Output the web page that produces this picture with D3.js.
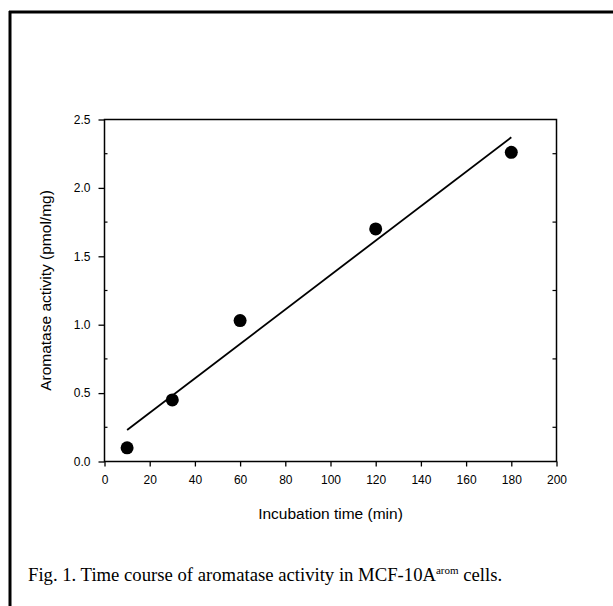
<!DOCTYPE html>
<html><head><meta charset="utf-8">
<script src="https://cdn.jsdelivr.net/npm/d3@7"></script>
<style>body{margin:0;background:#fff}svg{display:block}</style>
</head><body>
<svg id="c" width="613" height="606"></svg>
<script>
const times = [10, 30, 60, 120, 180];
const activity = [0.10, 0.45, 1.03, 1.70, 2.26];
const fitX = [10, 180];
const fitY = [0.23, 2.37];
const xTicks = [0, 20, 40, 60, 80, 100, 120, 140, 160, 180, 200];
const yTicks = [0.0, 0.5, 1.0, 1.5, 2.0, 2.5];
const yMinorTicks = [0.25, 0.75, 1.25, 1.75, 2.25];

const svg = d3.select("#c");
const x = d3.scaleLinear().domain([0, 200]).range([104.5, 556.5]);
const y = d3.scaleLinear().domain([0, 2.5]).range([461.5, 119.5]);
const font = "'Liberation Sans', Arial, sans-serif";

// frame
svg.append("line").attr("x1", 10).attr("x2", 10).attr("y1", 11).attr("y2", 606).attr("stroke", "#000").attr("stroke-width", 3);
svg.append("line").attr("x1", 9).attr("x2", 613).attr("y1", 12).attr("y2", 12).attr("stroke", "#000").attr("stroke-width", 3);

// plot box
svg.append("rect").attr("x", x(0)).attr("y", y(2.5)).attr("width", x(200) - x(0)).attr("height", y(0) - y(2.5))
  .attr("fill", "none").attr("stroke", "#000").attr("stroke-width", 1.5);

// x axis
const gx = svg.append("g").attr("transform", `translate(0,${y(0)})`)
  .call(d3.axisBottom(x).tickValues(xTicks).tickFormat(d3.format("d")).tickSize(5).tickPadding(9));
gx.select(".domain").remove();
gx.selectAll("line").attr("stroke-width", 1.3);
gx.selectAll("text").attr("font-family", font).attr("font-size", 12).attr("fill", "#000");

// y axis
const gy = svg.append("g").attr("transform", `translate(${x(0)},0)`)
  .call(d3.axisLeft(y).tickValues(yTicks).tickFormat(d3.format(".1f")).tickSize(6).tickPadding(8));
gy.select(".domain").remove();
gy.selectAll("line").attr("stroke-width", 1.3);
gy.selectAll("text").attr("font-family", font).attr("font-size", 12).attr("fill", "#000");

// minor inward ticks left and right
const gm = svg.append("g").attr("stroke", "#000").attr("stroke-width", 1.2);
gm.selectAll("line.l").data(yMinorTicks).join("line")
  .attr("x1", x(0)).attr("x2", x(0) + 3).attr("y1", d => y(d)).attr("y2", d => y(d));
gm.selectAll("line.r").data(yMinorTicks).join("line")
  .attr("x1", x(200)).attr("x2", x(200) - 4).attr("y1", d => y(d)).attr("y2", d => y(d));

// fit line
svg.append("path").datum(fitX.map((d, i) => [d, fitY[i]]))
  .attr("d", d3.line().x(d => x(d[0])).y(d => y(d[1])))
  .attr("fill", "none").attr("stroke", "#000").attr("stroke-width", 1.8);

// points
svg.append("g").selectAll("circle").data(times.map((t, i) => [t, activity[i]])).join("circle")
  .attr("cx", d => x(d[0])).attr("cy", d => y(d[1])).attr("r", 6.5).attr("fill", "#000");

// axis titles
svg.append("text").attr("x", x(100)).attr("y", 519).attr("text-anchor", "middle")
  .attr("font-family", font).attr("font-size", 15.5).text("Incubation time (min)");
svg.append("text").attr("transform", `translate(51,${y(1.25)}) rotate(-90)`).attr("text-anchor", "middle")
  .attr("font-family", font).attr("font-size", 15.5).text("Aromatase activity (pmol/mg)");

// caption
const cap = svg.append("text").attr("x", 28).attr("y", 581)
  .attr("font-family", "'Liberation Serif', 'Times New Roman', serif").attr("font-size", 18.7);
cap.append("tspan").text("Fig. 1. Time course of aromatase activity in MCF-10A");
cap.append("tspan").attr("font-size", 11).attr("dy", -7).text("arom");
cap.append("tspan").attr("dy", 7).text(" cells.");
</script>
</body></html>
